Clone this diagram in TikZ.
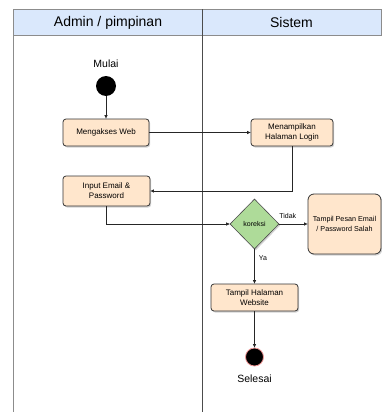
\documentclass[tikz,border=0pt]{standalone}
\usepackage{fontspec}
\setmainfont{Liberation Sans}
\usetikzlibrary{shapes.geometric,shadows,arrows.meta}
\definecolor{hdrfill}{RGB}{218,232,252}
\definecolor{boxfill}{RGB}{255,230,204}
\definecolor{decfill}{RGB}{174,219,153}
\definecolor{endring}{RGB}{240,150,150}
\begin{document}
\begin{tikzpicture}[x=1pt,y=-1pt,
  actbox/.style={draw=black!80, line width=0.8pt, fill=boxfill, rounded corners=3pt,
    align=center, font=\fontsize{8}{10}\selectfont, inner sep=1pt,
    drop shadow={shadow xshift=1.2pt, shadow yshift=-1.5pt, opacity=0.35}},
  decbox/.style={diamond, draw=black!70, line width=0.6pt, fill=decfill, aspect=1, inner sep=0pt,
    font=\fontsize{7}{8}\selectfont,
    drop shadow={shadow xshift=1.2pt, shadow yshift=-1.5pt, opacity=0.35}},
  conn/.style={draw=black!85, line width=0.7pt, -{Triangle[length=3.5pt,width=3pt]}},
  lbl/.style={font=\fontsize{7}{8}\selectfont, inner sep=0pt},
  lanetxt/.style={font=\fontsize{14}{16}\selectfont, inner sep=0pt}
]
\useasboundingbox (0,0) rectangle (382,412);
% swimlanes
\fill[white] (0,0) rectangle (382,412);
\draw[black!45, line width=0.8pt, fill=hdrfill] (13.5,9.5) rectangle (381,35);
\draw[black!45, line width=1.6pt] (13.5,35) -- (13.5,412);
\draw[black!70, line width=0.7pt] (202,9.5) -- (202,412);
\node[lanetxt] (laneA) at (108,22.5) {Admin / pimpinan};
\node[lanetxt] (laneB) at (291.5,22.5) {Sistem};
% nodes
\node[lbl, font=\fontsize{10.5}{12}\selectfont] (mulai) at (106,64) {Mulai};
\node[circle, fill=black, minimum size=20pt, inner sep=0pt] (start) at (106,86) {};
\node[actbox, minimum width=86pt, minimum height=27pt] (web) at (106,132.5) {Mengakses Web};
\node[actbox, minimum width=82pt, minimum height=27pt] (login) at (292,132.5) {Menampilkan\\Halaman Login};
\node[actbox, minimum width=87pt, minimum height=30pt] (input) at (106.5,191) {Input Email \&\\Password};
\node[decbox, minimum width=49pt, minimum height=50pt] (kor) at (254.5,224) {koreksi};
\node[actbox, rounded corners=6pt, minimum width=73pt, minimum height=60pt, font=\fontsize{7.2}{9.5}\selectfont] (pesan) at (344.5,224) {Tampil Pesan Email\\/ Password Salah};
\node[actbox, minimum width=87pt, minimum height=27pt] (site) at (254.5,297.5) {Tampil Halaman\\Website};
\node[circle, fill=black, draw=endring, line width=0.8pt, minimum size=18pt, inner sep=0pt] (stop) at (254.5,357) {};
\node[lbl, font=\fontsize{10.5}{12}\selectfont] (selesai) at (254.5,379) {Selesai};
% connectors
\draw[conn] (start) -- (web);
\draw[conn] (web) -- (login);
\draw[conn] (login.south) |- (input.east);
\draw[conn] (input.south) |- (kor.west);
\draw[conn] (kor.east) -- node[lbl, above=5pt, pos=0.3] (tidak) {Tidak} (pesan.west);
\draw[conn] (kor.south) -- node[lbl, right=4pt, pos=0.25] (ya) {Ya} (site.north);
\draw[conn] (site) -- (stop);
\end{tikzpicture}
\end{document}
